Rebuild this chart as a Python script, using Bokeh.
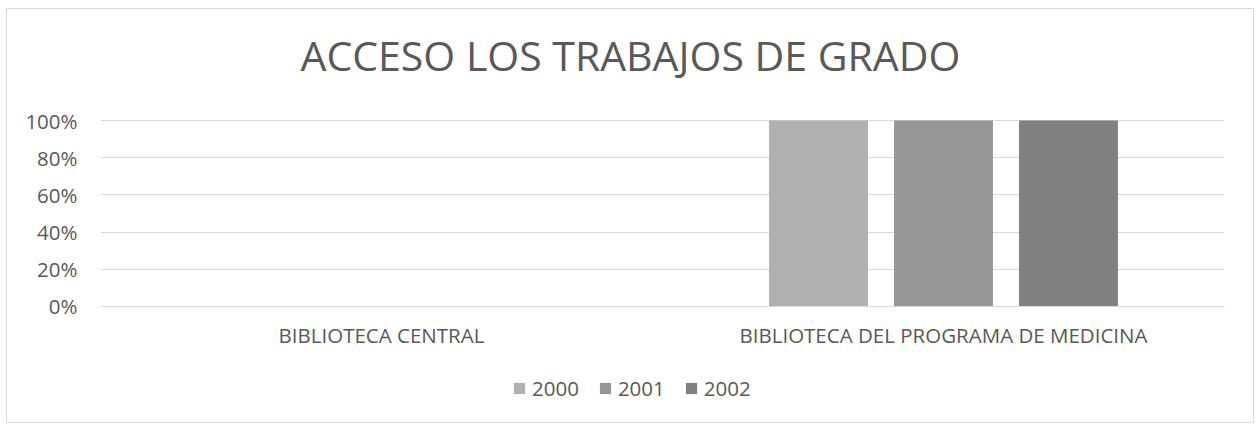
from bokeh.plotting import figure
from bokeh.models import (ColumnDataSource, FactorRange, NumeralTickFormatter, Legend,
                          LegendItem, FixedTicker, Label, Range1d)
from bokeh.transform import dodge
from bokeh.embed import file_html
from bokeh.resources import INLINE

title_text = "ACCESO LOS TRABAJOS DE GRADO"
categories = ["BIBLIOTECA CENTRAL", "BIBLIOTECA DEL PROGRAMA DE MEDICINA"]
years = ["2000", "2001", "2002"]
v2000 = [0.0, 1.0]
v2001 = [0.0, 1.0]
v2002 = [0.0, 1.0]
colors = ["#b0b0b0", "#969696", "#808080"]
y_ticks = [0, 0.2, 0.4, 0.6, 0.8, 1.0]

FONT = "Open Sans"
TXT = "#595959"
GRID = "#d9d9d9"

source = ColumnDataSource(data=dict(cat=categories, y2000=v2000, y2001=v2001, y2002=v2002))

# frame spans the whole inner chart area vertically; 0..1 occupies 186 px
p = figure(
    x_range=FactorRange(*categories, range_padding=0),
    y_range=Range1d(-0.5753, 1.5968),
    frame_width=1124, frame_height=404,
    output_backend="svg", toolbar_location=None,
    min_border_left=93, min_border_right=29, min_border_top=0, min_border_bottom=9,
    styles={"border": "1px solid #d9d9d9", "margin-left": "6px", "margin-top": "8px"},
)
p.outline_line_color = None
p.background_fill_color = "white"
p.border_fill_color = "white"

cols = ["y2000", "y2001", "y2002"]
offsets = [-0.2224, 0.0, 0.2224]
renderers = []
for col, off, c in zip(cols, offsets, colors):
    r = p.vbar(x=dodge("cat", off, range=p.x_range), top=col, bottom=0, width=0.176,
               source=source, fill_color=c, line_color=None)
    renderers.append(r)

p.add_layout(Label(x=0.943, y=1.3495, text=title_text, text_font=FONT,
                   text_font_size="41px", text_color=TXT, text_align="center",
                   text_baseline="alphabetic"))

p.yaxis.ticker = FixedTicker(ticks=y_ticks)
p.yaxis.formatter = NumeralTickFormatter(format="0%")
p.yaxis.axis_line_color = None
p.yaxis.major_tick_line_color = None
p.yaxis.minor_tick_line_color = None
p.yaxis.major_label_standoff = 17
p.yaxis.major_label_text_font = FONT
p.yaxis.major_label_text_font_size = "20.5px"
p.yaxis.major_label_text_color = TXT

p.xaxis.fixed_location = 0
p.xaxis.axis_line_color = GRID
p.xaxis.major_tick_line_color = None
p.xaxis.minor_tick_line_color = None
p.xaxis.major_label_standoff = 9
p.xaxis.major_label_text_font = FONT
p.xaxis.major_label_text_font_size = "20.5px"
p.xaxis.major_label_text_color = TXT

p.xgrid.grid_line_color = None
p.ygrid.ticker = FixedTicker(ticks=y_ticks)
p.ygrid.grid_line_color = GRID
p.ygrid.grid_line_width = 1

legend = Legend(
    items=[LegendItem(label=y, renderers=[r]) for y, r in zip(years, renderers)],
    orientation="horizontal", location=(412, 11),
    glyph_width=14, glyph_height=14, label_standoff=6, spacing=19,
    label_text_font=FONT, label_text_font_size="20.5px", label_text_color=TXT,
    border_line_color=None, background_fill_alpha=0, margin=0, padding=4,
)
p.add_layout(legend)

open("out.html", "w").write(file_html(p, INLINE))
